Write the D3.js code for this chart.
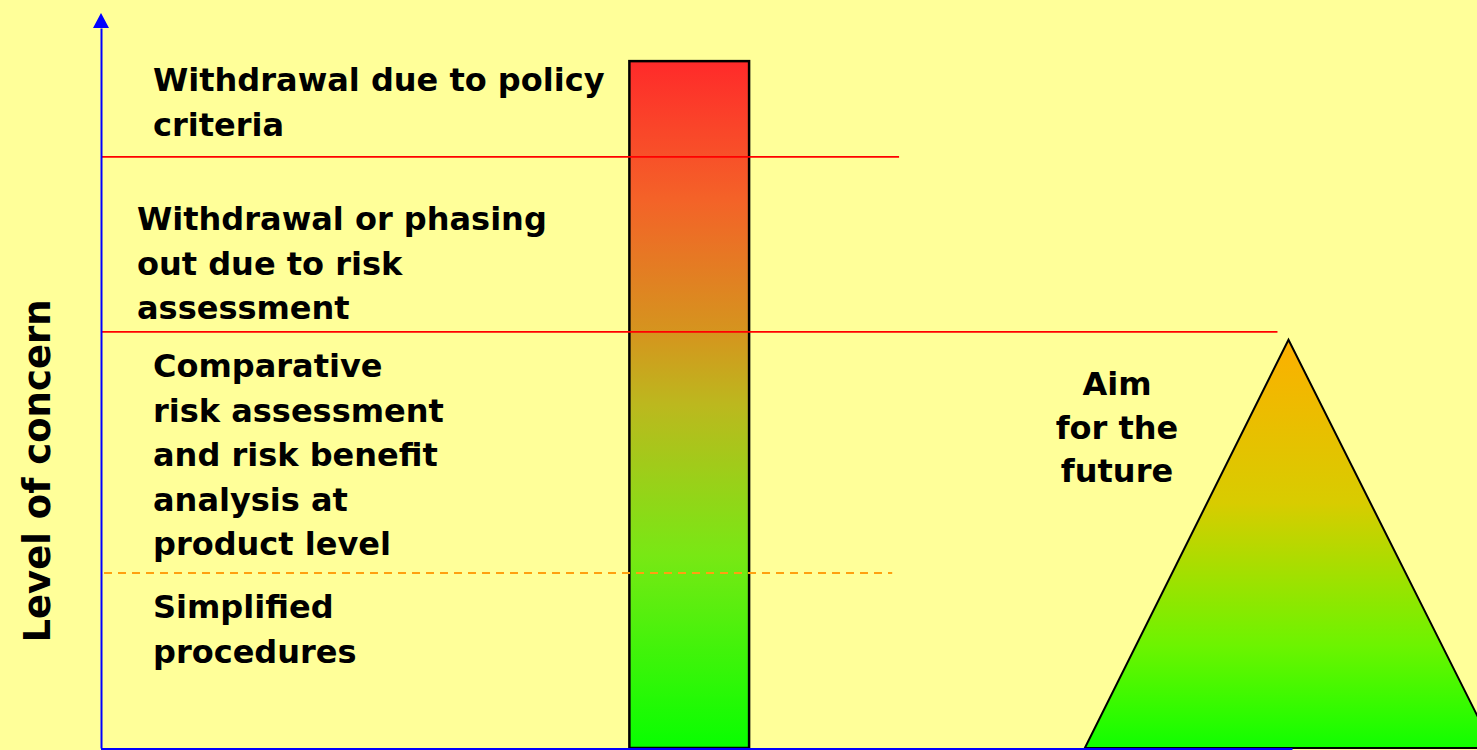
<!DOCTYPE html>
<html>
<head>
<meta charset="utf-8">
<script src="https://cdn.jsdelivr.net/npm/d3@7"></script>
<style>
  html, body { margin: 0; padding: 0; background: #ffff99; overflow: hidden; }
  svg { display: block; }
  text { font-family: "DejaVu Sans", sans-serif; font-weight: bold; fill: #000; }
</style>
</head>
<body>
<script>
// levels of concern, 0 = bottom of the axis, 100 = top
const bandLabels = [
  ["Simplified", "procedures"],
  ["Comparative", "risk assessment", "and risk benefit", "analysis at", "product level"],
  ["Withdrawal or phasing", "out due to risk", "assessment"],
  ["Withdrawal due to policy", "criteria"]
];
const boundaryLevels = [24.3, 57.8, 82.1];
const boundaryReach = [57.5, 85.5, 58.0];
const concernBar = [0, 95.4];
const concernBarSpan = [38.4, 47.1];
const pyramidApex = [86.3, 56.7];
const pyramidBase = [71.5, 101.2];
const aimLabel = ["Aim", "for the", "future"];
const axisTitle = "Level of concern";

const render = () => {
  let w = 1477;
  let h = 750;

  const x = d3.scaleLinear().domain([0, 100]).range([101, w]);
  const y = d3.scaleLinear().domain([0, 100]).range([748, 28]);

  const svg = d3.select("body").append("svg").attr("width", w).attr("height", h);

  // gradients for the bar and the pyramid
  const defs = svg.append("defs");
  const barGrad = defs.append("linearGradient").attr("id", "barGrad")
    .attr("x1", 0).attr("y1", 0).attr("x2", 0).attr("y2", 1);
  [[0, "#ff2a2a"], [0.2, "#f46228"], [0.4, "#d4961e"], [0.5, "#bcb81e"], [0.72, "#78e814"], [1, "#08ff00"]]
    .forEach(s => barGrad.append("stop").attr("offset", s[0]).attr("stop-color", s[1]));
  const pyrGrad = defs.append("linearGradient").attr("id", "pyrGrad")
    .attr("x1", 0).attr("y1", 0).attr("x2", 0).attr("y2", 1);
  [[0, "#fcb000"], [0.4, "#d8cc00"], [0.75, "#6cf400"], [1, "#10ff00"]]
    .forEach(s => pyrGrad.append("stop").attr("offset", s[0]).attr("stop-color", s[1]));

  // pyramid
  const apex = [x(pyramidApex[0]), y(pyramidApex[1])];
  svg.append("path")
    .attr("d", d3.line()([[x(pyramidBase[0]), y(0)], apex, [x(pyramidBase[1]), y(0)]]) + "Z")
    .attr("fill", "url(#pyrGrad)")
    .attr("stroke", "#000")
    .attr("stroke-width", 2);

  // the concern bar
  svg.append("rect")
    .attr("x", x(concernBarSpan[0]))
    .attr("y", y(concernBar[1]))
    .attr("width", x(concernBarSpan[1]) - x(concernBarSpan[0]))
    .attr("height", y(concernBar[0]) - y(concernBar[1]))
    .attr("fill", "url(#barGrad)")
    .attr("stroke", "#000")
    .attr("stroke-width", 2.5);

  // boundary lines between bands, drawn over the bar
  svg.selectAll(".boundary")
    .data(boundaryLevels)
    .enter()
    .append("line")
    .attr("class", "boundary")
    .attr("x1", (d, i) => i == 0 ? x(0) + 3 : x(0))
    .attr("x2", (d, i) => x(boundaryReach[i]))
    .attr("y1", d => y(d))
    .attr("y2", d => y(d))
    .attr("stroke", (d, i) => i == 0 ? "#ffa010" : "#ff0000")
    .attr("stroke-width", (d, i) => i == 0 ? 2 : 1.6)
    .attr("stroke-dasharray", (d, i) => i == 0 ? "8,6" : null);

  // axes
  const yAxis = d3.axisLeft(y).tickValues([]).tickSizeOuter(0);
  svg.append("g").attr("transform", "translate(" + x(0) + ",0)").call(yAxis)
    .select(".domain").attr("stroke", "#0000ff").attr("stroke-width", 2);
  svg.append("line")
    .attr("x1", x(0)).attr("x2", x(pyramidApex[0]) + 4)
    .attr("y1", y(0) + 1).attr("y2", y(0) + 1)
    .attr("stroke", "#0000ff").attr("stroke-width", 2);
  svg.append("path")
    .attr("d", d3.line()([[x(0), y(100) - 15], [x(0) - 8, y(100)], [x(0) + 8, y(100)]]) + "Z")
    .attr("fill", "#0000ff");

  // band labels
  const labelPos = [[153, 618], [153, 377], [137, 230], [153, 91]];
  const step = 44.5;
  bandLabels.forEach((lines, i) => {
    svg.append("text")
      .attr("x", labelPos[i][0])
      .attr("y", labelPos[i][1])
      .style("font-size", "32px")
      .selectAll("tspan")
      .data(lines)
      .enter()
      .append("tspan")
      .attr("x", labelPos[i][0])
      .attr("dy", (d, j) => j == 0 ? 0 : step)
      .text(d => d);
  });

  // aim label
  svg.append("text")
    .attr("text-anchor", "middle")
    .attr("y", 395)
    .style("font-size", "32px")
    .selectAll("tspan")
    .data(aimLabel)
    .enter()
    .append("tspan")
    .attr("x", 1117)
    .attr("dy", (d, j) => j == 0 ? 0 : 43.5)
    .text(d => d);

  // axis title
  svg.append("text")
    .attr("transform", "translate(50,471) rotate(-90)")
    .attr("text-anchor", "middle")
    .style("font-size", "37px")
    .text(axisTitle);
};

render();
</script>
</body>
</html>
